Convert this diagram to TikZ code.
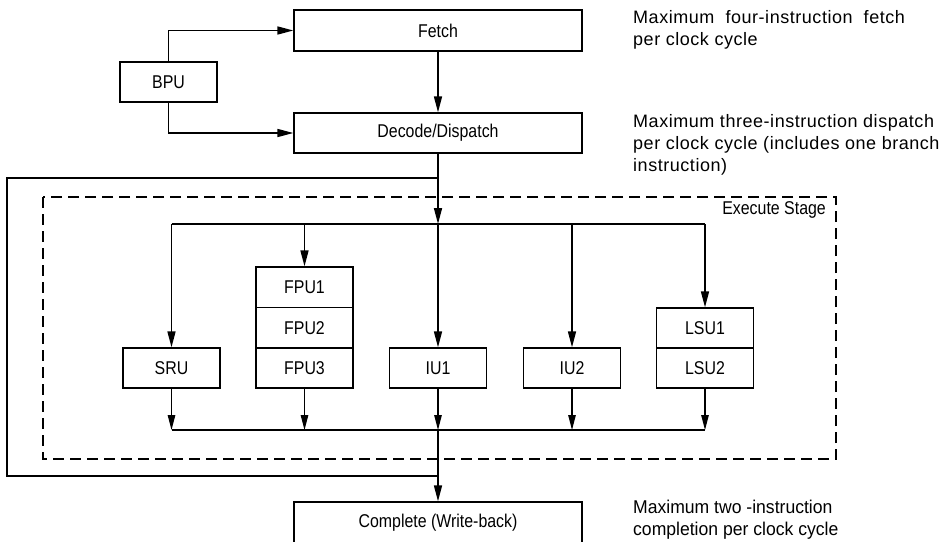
\documentclass[tikz,border=0pt]{standalone}
\usepackage{fontspec}
\setmainfont{Liberation Sans}
\usetikzlibrary{arrows.meta}
\begin{document}
\begin{tikzpicture}[x=1pt,y=-1pt,
  boxfont/.style={font=\addfontfeature{FakeStretch=0.86}\fontsize{18.5}{20}\selectfont},
  box/.style={draw, line width=1.3pt, minimum width=97pt, minimum height=40pt, inner sep=0pt, boxfont},
  widebox/.style={box, minimum width=288pt, minimum height=41pt},
  arr/.style={-{Triangle[length=16pt,width=8pt]}, line width=1.6pt},
  thinarr/.style={-{Triangle[length=15pt,width=7.5pt]}, line width=1.2pt},
  line/.style={line width=1.6pt},
  stage/.style={line width=2pt, dash pattern=on 11pt off 6pt},
  note/.style={anchor=north west, align=left, inner sep=0pt, font=\addfontfeature{LetterSpace=3}\fontsize{18}{22}\selectfont},
  notebot/.style={anchor=north west, align=left, inner sep=0pt, font=\addfontfeature{FakeStretch=0.95}\fontsize{18.5}{22}\selectfont}]
\useasboundingbox (0,0) rectangle (947,541);

% main pipeline boxes
\node[widebox] (fetch) at (438,30.5) {Fetch};
\node[widebox, minimum height=40pt] (decode) at (438,133) {Decode/Dispatch};
\node[box] (bpu) at (168.5,82) {BPU};
\node[widebox, minimum height=42pt] (complete) at (438,523) {Complete (Write-back)};

% execution units
\node[box] (sru) at (171.5,368) {SRU};
\node[box, minimum height=40.5pt] (fpu1) at (304.5,287.25) {FPU1};
\node[box, minimum height=40.5pt] (fpu2) at (304.5,327.75) {FPU2};
\node[box] (fpu3) at (304.5,368) {FPU3};
\node[box] (iu1) at (438,368) {IU1};
\node[box] (iu2) at (572,368) {IU2};
\node[box] (lsu1) at (705,328) {LSU1};
\node[box] (lsu2) at (705,368) {LSU2};

% execute stage frame
\draw[stage] (43,197) rectangle (836,459);
\node[anchor=east, inner sep=0pt, boxfont] (exlabel) at (826,210) {Execute Stage};

% notes
\node[note] (n1) at (633,10.5) {Maximum\ \ four-instruction\ \ fetch\\per clock cycle};
\node[note] (n2) at (633,114) {Maximum three-instruction dispatch\\per clock cycle (includes one branch\\instruction)};
\node[notebot] (n3) at (633,500) {Maximum two -instruction\\completion per clock cycle};

% coordinates
\coordinate (dist) at (438,224);
\coordinate (coll) at (438,430);
\coordinate (fbtop) at (438,178);
\coordinate (fbbot) at (438,476);
\coordinate (fbleft) at (7,178);

% BPU connections
\draw[arr] (bpu.north) |- (fetch.west);
\draw[arr] (bpu.south) |- (decode.west);
\draw[arr] (fetch) -- (decode);

% dispatch
\draw[arr] (decode.south) -- (dist);
\draw[line] (sru.north |- dist) -- (lsu1.north |- dist);
\draw[arr] (sru.north |- dist) -- (sru.north);
\draw[arr] (fpu1.north |- dist) -- (fpu1.north);
\draw[arr] (dist) -- (iu1.north);
\draw[arr] (iu2.north |- dist) -- (iu2.north);
\draw[arr] (lsu1.north |- dist) -- (lsu1.north);

% feedback loop
\draw[line] (fbtop) -- (fbleft) |- (fbbot);

% completion
\draw[thinarr] (sru.south) -- (sru.south |- coll);
\draw[thinarr] (fpu3.south) -- (fpu3.south |- coll);
\draw[thinarr] (iu1.south) -- (coll);
\draw[thinarr] (iu2.south) -- (iu2.south |- coll);
\draw[thinarr] (lsu2.south) -- (lsu2.south |- coll);
\draw[line] (sru.south |- coll) -- (lsu2.south |- coll);
\draw[arr] (coll) -- (complete.north);
\end{tikzpicture}
\end{document}
